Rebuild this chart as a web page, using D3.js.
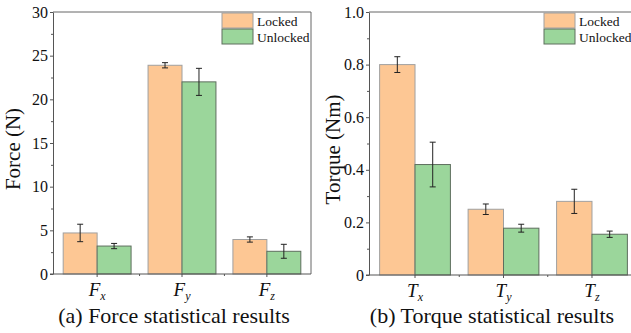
<!DOCTYPE html>
<html lang="en">
  <head>
    <meta charset="UTF-8" />
    <title>Force and torque statistical results</title>
    <style>
        body { margin: 0; background: #fff; }
        svg text { font-family: "Liberation Serif", "Times New Roman", serif; }
        .axis path, .axis line { stroke: #555; }
        .axis text { font-size: 16px; fill: #111; }
    </style>
    <script src="https://d3js.org/d3.v7.min.js"></script>
  </head>
  <body>
    <script>
        // data
        const series = ["Locked", "Unlocked"];
        const forceCats = ["x", "y", "z"];
        const forceLocked = [4.7, 23.9, 3.95];
        const forceLockedErr = [1.0, 0.3, 0.3];
        const forceUnlocked = [3.2, 22.0, 2.6];
        const forceUnlockedErr = [0.3, 1.55, 0.8];
        const forceTicks = [0, 5, 10, 15, 20, 25, 30];

        const torqueCats = ["x", "y", "z"];
        const torqueLocked = [0.80, 0.25, 0.28];
        const torqueLockedErr = [0.03, 0.02, 0.046];
        const torqueUnlocked = [0.42, 0.178, 0.155];
        const torqueUnlockedErr = [0.085, 0.015, 0.012];
        const torqueTicks = [0, 0.2, 0.4, 0.6, 0.8, 1.0];

        const colors = ["#fdc794", "#9bd69b"];
        const strokes = ["#a0a0a0", "#5e6e5e"];
        const serif = "'Liberation Serif', 'Times New Roman', serif";

        const width = 631, height = 333;
        const svg = d3.select("body").append("svg")
            .attr("width", width).attr("height", height);

        function panel(opt) {
            const x = d3.scaleBand().domain(opt.cats)
                .range([opt.x0, opt.x1]).paddingInner(0).paddingOuter(0.02);
            const y = d3.scaleLinear().domain(opt.domain).range([opt.y0, opt.y1]);
            const g = svg.append("g");
            const bw = x.step() * 0.4;

            // frame
            g.append("line").attr("x1", opt.x0).attr("x2", opt.x1)
                .attr("y1", opt.y1).attr("y2", opt.y1).attr("stroke", "#666");
            g.append("line").attr("x1", opt.x1).attr("x2", opt.x1)
                .attr("y1", opt.y1).attr("y2", opt.y0).attr("stroke", "#666");

            const rows = opt.cats.map((c, i) => ({c, i}));
            const sets = [
                {vals: opt.locked, errs: opt.lockedErr, k: 0},
                {vals: opt.unlocked, errs: opt.unlockedErr, k: 1}
            ];
            sets.forEach(s => {
                const cx = d => x(d.c) + x.bandwidth() / 2 + (s.k === 0 ? -bw : 0);
                g.append("g").selectAll("rect").data(rows).join("rect")
                    .attr("x", cx)
                    .attr("width", bw)
                    .attr("y", d => y(s.vals[d.i]))
                    .attr("height", d => y(0) - y(s.vals[d.i]))
                    .attr("fill", colors[s.k])
                    .attr("stroke", strokes[s.k])
                    .attr("stroke-width", 1);
                const eg = g.append("g").attr("stroke", "#222").attr("stroke-width", 1);
                rows.forEach(d => {
                    const mx = cx(d) + bw / 2;
                    const lo = y(s.vals[d.i] - s.errs[d.i]);
                    const hi = y(s.vals[d.i] + s.errs[d.i]);
                    eg.append("line").attr("x1", mx).attr("x2", mx).attr("y1", lo).attr("y2", hi);
                    eg.append("line").attr("x1", mx - 3).attr("x2", mx + 3).attr("y1", lo).attr("y2", lo);
                    eg.append("line").attr("x1", mx - 3).attr("x2", mx + 3).attr("y1", hi).attr("y2", hi);
                });
            });

            // y axis with minor ticks
            const minor = [];
            for (let i = 0; i < opt.ticks.length - 1; i++)
                minor.push((opt.ticks[i] + opt.ticks[i + 1]) / 2);
            g.append("g").attr("class", "axis")
                .attr("transform", `translate(${opt.x0},0)`)
                .call(d3.axisLeft(y).tickValues(minor).tickSize(2).tickFormat(""))
                .call(a => a.select(".domain").remove());
            g.append("g").attr("class", "axis")
                .attr("transform", `translate(${opt.x0},0)`)
                .call(d3.axisLeft(y).tickValues(opt.ticks).tickSizeInner(3).tickSizeOuter(0)
                    .tickPadding(2).tickFormat(opt.fmt))
                .attr("font-family", serif);

            // x axis: major at centres, minor between
            const centers = opt.cats.map(c => x(c) + x.bandwidth() / 2);
            const xa = g.append("g").attr("class", "axis");
            xa.append("line").attr("x1", opt.x0 - 3).attr("x2", opt.x1)
                .attr("y1", opt.y0).attr("y2", opt.y0);
            centers.forEach(cx => xa.append("line").attr("x1", cx).attr("x2", cx)
                .attr("y1", opt.y0).attr("y2", opt.y0 + 3));
            for (let i = 0; i < centers.length - 1; i++) {
                const m = (centers[i] + centers[i + 1]) / 2;
                xa.append("line").attr("x1", m).attr("x2", m)
                    .attr("y1", opt.y0).attr("y2", opt.y0 + 2);
            }
            opt.cats.forEach((c, i) => {
                const t = g.append("text").attr("x", centers[i]).attr("y", opt.y0 + 22)
                    .attr("text-anchor", "middle").attr("fill", "#111")
                    .style("font-style", "italic");
                t.append("tspan").text(opt.sym).style("font-size", "19px");
                t.append("tspan").text(c).style("font-size", "12px").attr("dy", 4);
            });

            // y label
            g.append("text")
                .attr("transform", `translate(${opt.ylx},${(opt.y0 + opt.y1) / 2 + 6}) rotate(-90)`)
                .attr("text-anchor", "middle")
                .style("font-size", "21px").attr("fill", "#111")
                .text(opt.ylabel);

            // title
            g.append("text").attr("x", opt.tx).attr("y", 323)
                .attr("text-anchor", "middle")
                .style("font-size", "22px").attr("fill", "#111")
                .text(opt.title);

            // legend
            series.forEach((s, k) => {
                g.append("rect").attr("x", opt.lx).attr("y", opt.y1 + 1 + k * 16)
                    .attr("width", 31).attr("height", 15)
                    .attr("fill", colors[k]).attr("stroke", strokes[k]);
                g.append("text").attr("x", opt.lx + 35).attr("y", opt.y1 + 14 + k * 16)
                    .style("font-size", "13.5px").attr("fill", "#111").text(s);
            });
        }

        panel({
            cats: forceCats, sym: "F",
            locked: forceLocked, lockedErr: forceLockedErr,
            unlocked: forceUnlocked, unlockedErr: forceUnlockedErr,
            domain: [0, 30], ticks: forceTicks, fmt: d3.format("d"),
            x0: 53, x1: 311, y0: 274, y1: 12, lx: 222,
            ylabel: "Force (N)", ylx: 20,
            title: "(a) Force statistical results", tx: 174
        });
        panel({
            cats: torqueCats, sym: "T",
            locked: torqueLocked, lockedErr: torqueLockedErr,
            unlocked: torqueUnlocked, unlockedErr: torqueUnlockedErr,
            domain: [0, 1], ticks: torqueTicks, fmt: d => d === 0 ? "0" : d3.format(".1f")(d),
            x0: 369, x1: 638, y0: 275, y1: 12, lx: 544,
            ylabel: "Torque (Nm)", ylx: 340,
            title: "(b) Torque statistical results", tx: 492
        });
    </script>
  </body>
</html>
